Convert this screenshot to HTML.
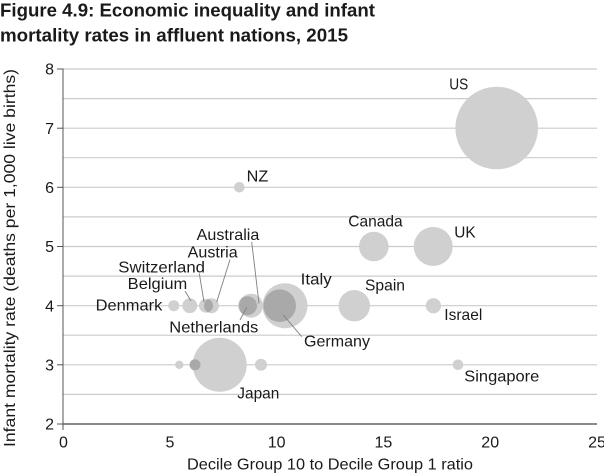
<!DOCTYPE html>
<html>
<head>
<meta charset="utf-8">
<style>
html,body{margin:0;padding:0;background:#fff;}
svg{display:block;}
text{font-family:"Liberation Sans",sans-serif;fill:#1a1a1a;}
</style>
</head>
<body>
<svg width="604" height="474" viewBox="0 0 604 474" xmlns="http://www.w3.org/2000/svg">
<defs>
  <clipPath id="cAustria"><circle cx="211.5" cy="305.7" r="7.5"/></clipPath>
  <clipPath id="cAustralia"><circle cx="251" cy="305.7" r="12"/></clipPath>
  <clipPath id="cItaly"><circle cx="285" cy="305.7" r="22.5"/></clipPath>
</defs>

<!-- Title -->
<text x="0" y="16.5" font-size="18" font-weight="bold" textLength="375" lengthAdjust="spacingAndGlyphs">Figure 4.9: Economic inequality and infant</text>
<text x="0" y="41.5" font-size="18" font-weight="bold" textLength="348" lengthAdjust="spacingAndGlyphs">mortality rates in affluent nations, 2015</text>

<!-- gridlines every 0.5 -->
<g stroke="#cbcbcb" stroke-width="1.2">
  <line x1="63" y1="69" x2="597" y2="69"/>
  <line x1="63" y1="98.6" x2="597" y2="98.6"/>
  <line x1="63" y1="128.2" x2="597" y2="128.2"/>
  <line x1="63" y1="157.7" x2="597" y2="157.7"/>
  <line x1="63" y1="187.3" x2="597" y2="187.3"/>
  <line x1="63" y1="216.9" x2="597" y2="216.9"/>
  <line x1="63" y1="246.5" x2="597" y2="246.5"/>
  <line x1="63" y1="276.1" x2="597" y2="276.1"/>
  <line x1="63" y1="305.7" x2="597" y2="305.7"/>
  <line x1="63" y1="335.2" x2="597" y2="335.2"/>
  <line x1="63" y1="364.8" x2="597" y2="364.8"/>
  <line x1="63" y1="394.4" x2="597" y2="394.4"/>
</g>

<!-- axes -->
<line x1="63" y1="424" x2="597" y2="424" stroke="#8a8a8a" stroke-width="2"/>
<line x1="63" y1="68.5" x2="63" y2="430" stroke="#555" stroke-width="1"/>
<g stroke="#555" stroke-width="1">
  <line x1="57" y1="69" x2="63" y2="69"/>
  <line x1="57" y1="128.2" x2="63" y2="128.2"/>
  <line x1="57" y1="187.3" x2="63" y2="187.3"/>
  <line x1="57" y1="246.5" x2="63" y2="246.5"/>
  <line x1="57" y1="305.7" x2="63" y2="305.7"/>
  <line x1="57" y1="364.8" x2="63" y2="364.8"/>
  <line x1="57" y1="424" x2="63" y2="424"/>
</g>

<!-- y tick labels -->
<g font-size="16" text-anchor="end">
  <text x="54" y="74.7">8</text>
  <text x="54" y="133.9">7</text>
  <text x="54" y="193">6</text>
  <text x="54" y="252.2">5</text>
  <text x="54" y="311.4">4</text>
  <text x="54" y="370.5">3</text>
  <text x="54" y="429.7">2</text>
</g>

<!-- x tick labels -->
<g font-size="16" text-anchor="middle">
  <text x="63.5" y="447.5">0</text>
  <text x="170" y="447.5">5</text>
  <text x="276.6" y="447.5">10</text>
  <text x="383.4" y="447.5">15</text>
  <text x="490.2" y="447.5">20</text>
  <text x="597" y="447.5">25</text>
</g>

<!-- axis titles -->
<text x="187" y="469.5" font-size="16" textLength="286" lengthAdjust="spacingAndGlyphs">Decile Group 10 to Decile Group 1 ratio</text>
<text transform="translate(15,258) rotate(-90)" x="0" y="0" font-size="16" text-anchor="middle" textLength="378" lengthAdjust="spacingAndGlyphs">Infant mortality rate (deaths per 1,000 live births)</text>

<!-- bubbles -->
<g fill="#d0d0d0">
  <circle cx="496.7" cy="128" r="41.3"/>
  <circle cx="239.3" cy="187.3" r="5.3"/>
  <circle cx="373.8" cy="246.5" r="14.8"/>
  <circle cx="433.2" cy="246.5" r="19.5"/>
  <circle cx="173.8" cy="305.7" r="5.5"/>
  <circle cx="189.8" cy="305.7" r="7.5"/>
  <circle cx="206" cy="305.7" r="7"/>
  <circle cx="211.5" cy="305.7" r="7.5"/>
  <circle cx="251" cy="305.7" r="12"/>
  <circle cx="247.5" cy="305.7" r="9.5"/>
  <circle cx="285" cy="305.7" r="22.5"/>
  <circle cx="279.7" cy="305.7" r="16.3"/>
  <circle cx="354.3" cy="305.7" r="15.7"/>
  <circle cx="433.4" cy="305.7" r="7.6"/>
  <circle cx="179.3" cy="364.8" r="4.2"/>
  <circle cx="219.7" cy="364.8" r="27"/>
  <circle cx="261" cy="364.8" r="6"/>
  <circle cx="458" cy="364.8" r="5.3"/>
</g>
<g fill="#a9a9a9">
  <circle cx="206" cy="305.7" r="7" clip-path="url(#cAustria)"/>
  <circle cx="247.5" cy="305.7" r="9.5" clip-path="url(#cAustralia)"/>
  <circle cx="279.7" cy="305.7" r="16.3" clip-path="url(#cItaly)"/>
  <circle cx="195" cy="364.8" r="5.5"/>
</g>

<!-- leader lines -->
<g stroke="#808080" stroke-width="0.9" fill="none">
  <line x1="185" y1="291" x2="191" y2="301"/>
  <line x1="199.3" y1="273.5" x2="204" y2="302"/>
  <line x1="230" y1="259.5" x2="216.7" y2="302"/>
  <line x1="251.7" y1="242" x2="259" y2="303.5"/>
  <line x1="240" y1="320" x2="246.7" y2="307.5"/>
  <line x1="283.3" y1="315" x2="301.7" y2="336.7"/>
</g>

<!-- data labels -->
<g font-size="16" lengthAdjust="spacingAndGlyphs">
  <text x="449.3" y="89.3" textLength="19" lengthAdjust="spacingAndGlyphs">US</text>
  <text x="246.7" y="181.7" textLength="21.6" lengthAdjust="spacingAndGlyphs">NZ</text>
  <text x="348.3" y="226.7" textLength="54.4" lengthAdjust="spacingAndGlyphs">Canada</text>
  <text x="454.3" y="237.7" textLength="21.4" lengthAdjust="spacingAndGlyphs">UK</text>
  <text x="196.7" y="240" textLength="62.6" lengthAdjust="spacingAndGlyphs">Australia</text>
  <text x="187.7" y="257.7" textLength="50" lengthAdjust="spacingAndGlyphs">Austria</text>
  <text x="118.3" y="272.3" textLength="86.7" lengthAdjust="spacingAndGlyphs">Switzerland</text>
  <text x="127.7" y="289" textLength="59.6" lengthAdjust="spacingAndGlyphs">Belgium</text>
  <text x="95.7" y="310.7" textLength="66.6" lengthAdjust="spacingAndGlyphs">Denmark</text>
  <text x="300.7" y="284.5" textLength="31" lengthAdjust="spacingAndGlyphs">Italy</text>
  <text x="365" y="290.5" textLength="40" lengthAdjust="spacingAndGlyphs">Spain</text>
  <text x="444.3" y="320" textLength="38" lengthAdjust="spacingAndGlyphs">Israel</text>
  <text x="169.3" y="332.7" textLength="89" lengthAdjust="spacingAndGlyphs">Netherlands</text>
  <text x="304" y="346.7" textLength="66" lengthAdjust="spacingAndGlyphs">Germany</text>
  <text x="237.3" y="398.4" textLength="42" lengthAdjust="spacingAndGlyphs">Japan</text>
  <text x="464.3" y="381.5" textLength="75" lengthAdjust="spacingAndGlyphs">Singapore</text>
</g>
</svg>
</body>
</html>
